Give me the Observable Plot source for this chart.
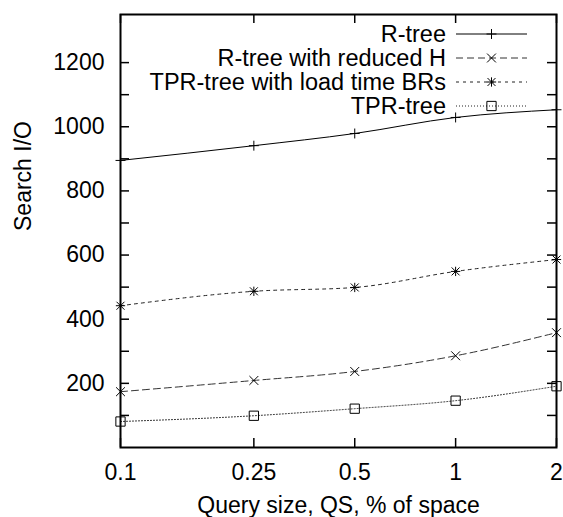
<!DOCTYPE html>
<html><head><meta charset="utf-8">
<script src="https://cdn.jsdelivr.net/npm/d3@7"></script>
<script src="https://cdn.jsdelivr.net/npm/@observablehq/plot@0.6"></script>
<style>body{margin:0;background:#fff} #chart{position:relative;width:563px;height:517px}</style>
</head><body><div id="chart"></div>
<script>
// ---- data ----
const querySizes = [0.1, 0.25, 0.5, 1, 2];
const seriesNames = ["R-tree", "R-tree with reduced H", "TPR-tree with load time BRs", "TPR-tree"];
const rtree = [895, 941, 979, 1029, 1053];
const rtreeReducedH = [174, 209, 237, 286, 358];
const tprLoadTime = [442, 487, 499, 549, 586];
const tprTree = [81, 99, 121, 146, 191];
const xTicks = [0.1, 0.25, 0.5, 1, 2];
const xTickLabels = ["0.1", "0.25", "0.5", "1", "2"];
const yMajorTicks = [200, 400, 600, 800, 1000, 1200];
const yMinorTicks = [100, 300, 500, 700, 900, 1100];
const xLabel = "Query size, QS, % of space";
const yLabel = "Search I/O";

// ---- styles ----
const W = 563, H = 517;
const margin = {top: 14, right: 7, bottom: 70, left: 120};
const innerW = W - margin.left - margin.right;
const innerH = H - margin.top - margin.bottom;
const tickLen = 9;
const FONT = "'Liberation Sans', Arial, Helvetica, sans-serif";
const FS = 23;
const LEGEND_FS = 23.5;

const styles = [
  {dash: null, stroke: "#000", symbols: [{s: "plus", r: 3.3}]},
  {dash: "7,4", stroke: "#333", symbols: [{s: "times", r: 4.1}]},
  {dash: "3,4", stroke: "#222", symbols: [{s: "plus", r: 3.1}, {s: "times", r: 3.7}]},
  {dash: "1,2", stroke: "#222", symbols: [{s: "square2", r: 5.9}]}
];
const seriesValues = [rtree, rtreeReducedH, tprLoadTime, tprTree];

const table = seriesValues.flatMap((vals, i) =>
  vals.map((v, j) => ({series: seriesNames[i], idx: i, x: querySizes[j], y: v})));
const xTickTable = xTicks.map((v, i) => ({x: v, label: xTickLabels[i]}));

const marks = [];
seriesValues.forEach((vals, i) => {
  const data = table.filter(d => d.idx === i);
  marks.push(Plot.line(data, {x: "x", y: "y", curve: "monotone-x", stroke: styles[i].stroke,
    strokeWidth: 1, strokeDasharray: styles[i].dash}));
  styles[i].symbols.forEach(sym => {
    marks.push(Plot.dot(data, {x: "x", y: "y", symbol: sym.s, r: sym.r, stroke: "#000",
      fill: sym.s === "square2" ? "none" : undefined, strokeWidth: 1}));
  });
});

const allY = [...yMajorTicks, ...yMinorTicks];

const chart = Plot.plot({
  width: W, height: H,
  marginTop: margin.top, marginRight: margin.right, marginBottom: margin.bottom, marginLeft: margin.left,
  style: {fontFamily: FONT, fontSize: FS + "px", color: "#000", background: "#fff", overflow: "visible"},
  x: {type: "log", domain: [0.1, 2], axis: null},
  y: {domain: [0, 1350], axis: null},
  marks: [
    Plot.text(xTickTable, {x: "x", text: "label", frameAnchor: "bottom", dy: 16, lineAnchor: "top", fontSize: FS, fill: "#000"}),
    Plot.axisY(yMajorTicks, {tickSize: 0, tickPadding: 16, tickFormat: d => String(d), label: null, fontSize: FS}),
    Plot.tickY(allY, {y: d => d, insetRight: innerW - tickLen, stroke: "#000", strokeWidth: 1.5}),
    Plot.tickY(allY, {y: d => d, insetLeft: innerW - tickLen, stroke: "#000", strokeWidth: 1.5}),
    Plot.tickX(xTicks, {x: d => d, insetTop: innerH - tickLen, stroke: "#000", strokeWidth: 1.5}),
    Plot.tickX(xTicks, {x: d => d, insetBottom: innerH - tickLen, stroke: "#000", strokeWidth: 1.5}),
    ...marks,
    Plot.frame({stroke: "#000", strokeWidth: 2}),
    Plot.text([yLabel], {frameAnchor: "left", dx: -97, rotate: -90, fontSize: FS, fill: "#000"}),
    Plot.text([xLabel], {frameAnchor: "bottom", dy: 58, lineAnchor: "middle", fontSize: FS, fill: "#000"})
  ]
});
document.getElementById("chart").appendChild(chart);

// ---- legend (inside plot, top right) ----
const svg = d3.select(chart);
const lg = svg.append("g").attr("font-family", FONT).attr("font-size", LEGEND_FS);
const symMap = {plus: d3.symbolPlus, times: d3.symbolTimes, square2: d3.symbolSquare2};
seriesNames.forEach((name, i) => {
  const cy = 34 + i * 24;
  lg.append("text").attr("x", 446).attr("y", cy).attr("dy", "0.34em")
    .attr("text-anchor", "end").attr("fill", "#000").text(name);
  lg.append("line").attr("x1", 456).attr("x2", 527).attr("y1", cy).attr("y2", cy)
    .attr("stroke", styles[i].stroke).attr("stroke-width", 1)
    .attr("stroke-dasharray", styles[i].dash);
  styles[i].symbols.forEach(sym => {
    lg.append("path").attr("transform", `translate(491.5,${cy})`)
      .attr("d", d3.symbol(symMap[sym.s], sym.r * sym.r * Math.PI)())
      .attr("fill", "none").attr("stroke", "#000").attr("stroke-width", 1);
  });
});
</script>
</body></html>
